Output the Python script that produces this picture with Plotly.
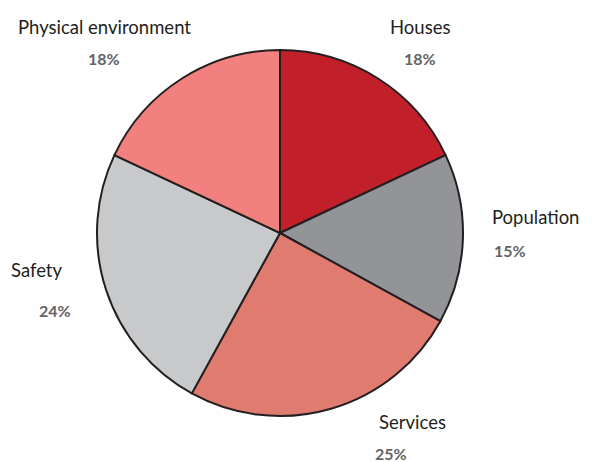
import plotly.graph_objects as go

categories = ["Houses", "Population", "Services", "Safety", "Physical environment"]
values = [18, 15, 25, 24, 18]
colors = ["#C1202B", "#939498", "#E07B70", "#C8C9CB", "#F2807F"]

# label anchor positions in pixels (x, y from top) for name and percentage
name_pos = [(420, 27, "center"), (490, 217, "left"), (412, 422, "center"), (9, 270, "left"), (104, 27, "center")]
pct_pos = [(420, 59, "center"), (492, 250, "left"), (391, 453, "center"), (55, 310, "center"), (104, 59, "center")]

OFF = 8  # page body margin
W, H = 592 - OFF, 462 - OFF
cx, cy, r = 280 - OFF, 233 - OFF, 183

fig = go.Figure(go.Pie(
    labels=categories, values=values, sort=False, direction="clockwise", rotation=0,
    marker=dict(colors=colors, line=dict(color="#231F20", width=2)),
    textinfo="none", hoverinfo="label+percent", showlegend=False,
    domain=dict(x=[(cx - r) / W, (cx + r) / W], y=[(H - cy - r) / H, (H - cy + r) / H]),
))

ann = []
for cat, v, (nx, ny, na), (px, py, pa) in zip(categories, values, name_pos, pct_pos):
    ann.append(dict(x=(nx - OFF) / W, y=1 - (ny - OFF) / H, xref="paper", yref="paper", text=cat,
                    showarrow=False, xanchor=na, yanchor="middle",
                    font=dict(family="Lato", size=18.5, color="#231F20")))
    ann.append(dict(x=(px - OFF) / W, y=1 - (py - OFF) / H, xref="paper", yref="paper", text=f"<b>{v}%</b>",
                    showarrow=False, xanchor=pa, yanchor="middle",
                    font=dict(family="Lato", size=16, color="#636466")))

fig.update_layout(width=W, height=H, margin=dict(l=0, r=0, t=0, b=0),
                  paper_bgcolor="white", plot_bgcolor="white", annotations=ann)
fig.write_html("out.html")
